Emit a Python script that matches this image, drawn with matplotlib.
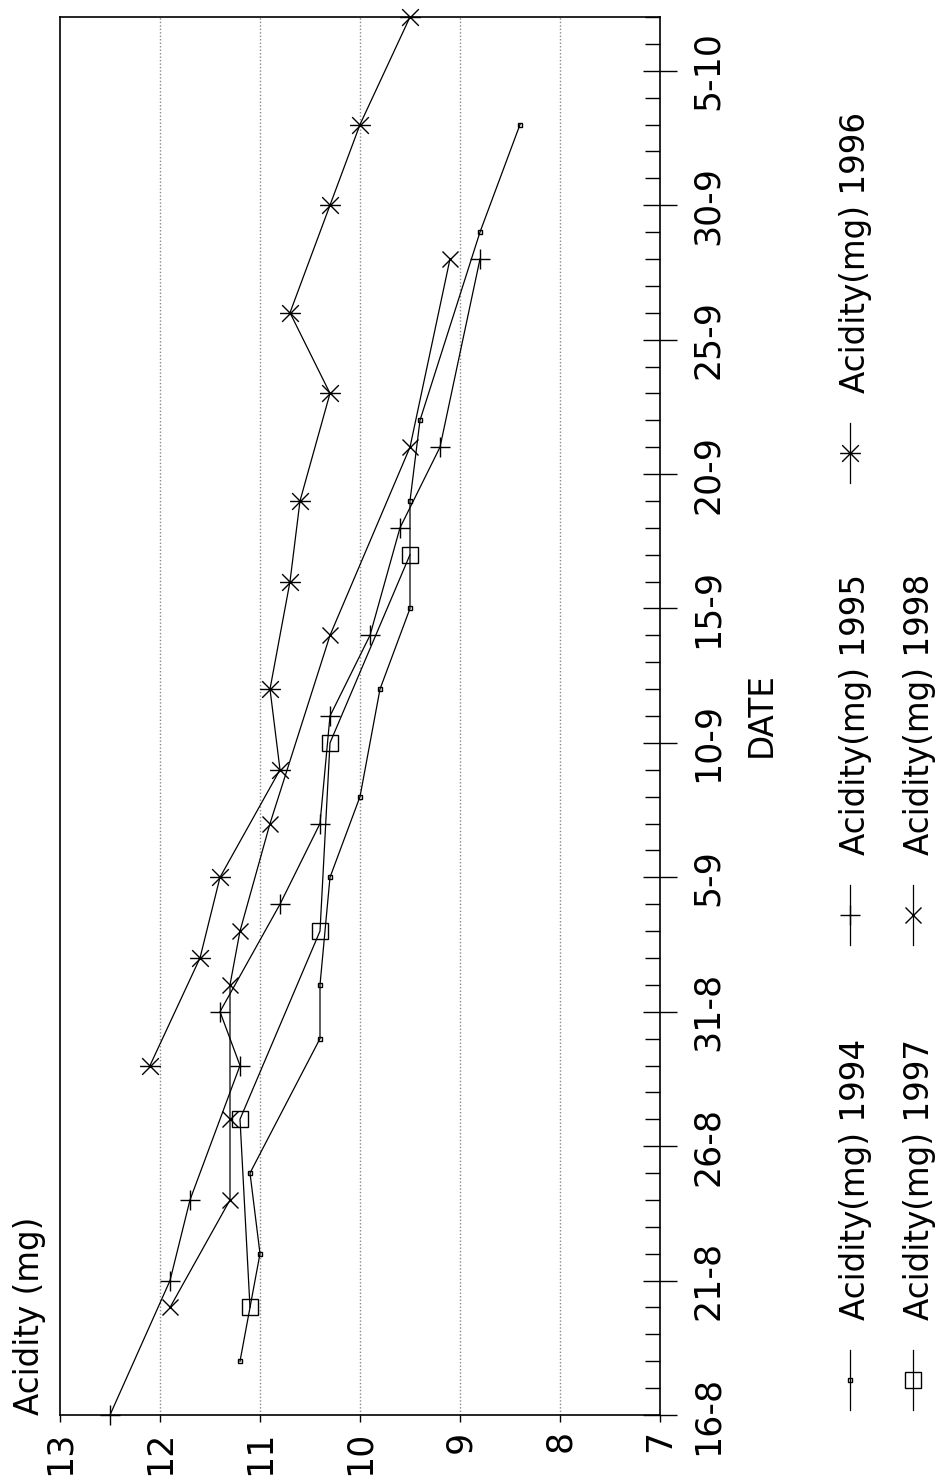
import matplotlib
matplotlib.use("Agg")
import matplotlib.pyplot as plt
from matplotlib.path import Path
from matplotlib.lines import Line2D
from matplotlib.ticker import FixedLocator, MultipleLocator

# ---------------- data ----------------
TICK_DATES = ["16-8", "21-8", "26-8", "31-8", "5-9", "10-9", "15-9",
              "20-9", "25-9", "30-9", "5-10"]
ACID_TICKS = [13, 12, 11, 10, 9, 8, 7]
GRID_VALUES = [12, 11, 10, 9, 8]

DATES_1994 = ["18-8", "22-8", "25-8", "30-8", "1-9", "5-9", "8-9", "12-9",
              "15-9", "19-9", "22-9", "29-9", "3-10"]
ACID_1994 = [11.2, 11.0, 11.1, 10.4, 10.4, 10.3, 10.0, 9.8, 9.5, 9.5, 9.4, 8.8, 8.4]

DATES_1995 = ["16-8", "21-8", "24-8", "29-8", "31-8", "4-9", "7-9", "11-9",
              "14-9", "18-9", "21-9", "28-9"]
ACID_1995 = [12.5, 11.9, 11.7, 11.2, 11.4, 10.8, 10.4, 10.3, 9.9, 9.6, 9.2, 8.8]

DATES_1996 = ["29-8", "2-9", "5-9", "9-9", "12-9", "16-9", "19-9", "23-9",
              "26-9", "30-9", "3-10", "7-10"]
ACID_1996 = [12.1, 11.6, 11.4, 10.8, 10.9, 10.7, 10.6, 10.3, 10.7, 10.3, 10.0, 9.5]

DATES_1997 = ["20-8", "27-8", "3-9", "10-9", "17-9"]
ACID_1997 = [11.1, 11.2, 10.4, 10.3, 9.5]

DATES_1998 = ["20-8", "24-8", "27-8", "1-9", "3-9", "7-9", "14-9", "21-9", "28-9"]
ACID_1998 = [11.9, 11.3, 11.3, 11.3, 11.2, 10.9, 10.3, 9.5, 9.1]

LABELS = ["Acidity(mg) 1994", "Acidity(mg) 1995", "Acidity(mg) 1996",
          "Acidity(mg) 1997", "Acidity(mg) 1998"]


def day_index(s):
    d, m = (int(v) for v in s.split("-"))
    return d + {8: -16, 9: 15, 10: 45}[m]


# ---------------- styles ----------------
W, H = 940, 1479
plt.rcParams["font.family"] = ["DejaVu Sans"]

ast_path = Path([(-1, -1), (1, 1), (-1, 1), (1, -1), (-1.25, 0), (1.25, 0)],
                [Path.MOVETO, Path.LINETO] * 3)

STYLES = {
    "Acidity(mg) 1994": dict(marker="s", ms=3.5, mfc="none", mew=1.0),
    "Acidity(mg) 1995": dict(marker="+", ms=15, mew=1.0),
    "Acidity(mg) 1996": dict(marker=ast_path, ms=15, mew=1.0),
    "Acidity(mg) 1997": dict(marker="s", ms=11, mfc="none", mew=1.0),
    "Acidity(mg) 1998": dict(marker="x", ms=12, mew=1.0),
}

SERIES = [
    (DATES_1994, ACID_1994, LABELS[0]),
    (DATES_1995, ACID_1995, LABELS[1]),
    (DATES_1996, ACID_1996, LABELS[2]),
    (DATES_1997, ACID_1997, LABELS[3]),
    (DATES_1998, ACID_1998, LABELS[4]),
]

fig = plt.figure(figsize=(W / 100, H / 100), dpi=100)
ax = fig.add_axes([60 / W, 1 - 1415 / H, 600 / W, (1415 - 17) / H])

for dates, vals, lab in SERIES:
    ax.plot(vals, [day_index(d) for d in dates], color="black", lw=0.9,
            mec="black", clip_on=False, zorder=3, **STYLES[lab])

ax.set_xlim(13, 7)
ax.set_ylim(0, 52)

for g in GRID_VALUES:
    ax.axvline(g, color="#888888", lw=1.0, ls=(0, (1, 1.5)), zorder=1)

for sp in ax.spines.values():
    sp.set_linewidth(1.2)

# acidity axis (bottom)
ax.set_xticks(ACID_TICKS)
ax.set_xticklabels([str(v) for v in ACID_TICKS], rotation=90, fontsize=25)
ax.tick_params(axis="x", direction="out", length=5, width=1, pad=6)

# date axis (right)
ax.yaxis.tick_right()
ax.set_yticks([day_index(d) for d in TICK_DATES])
ax.set_yticklabels(TICK_DATES, rotation=90, va="center", fontsize=25)
ax.yaxis.set_minor_locator(MultipleLocator(1))
ax.tick_params(axis="y", which="major", direction="inout", length=24, width=1, pad=10)
ax.tick_params(axis="y", which="minor", direction="in", length=11, width=1)


def fxy(px, py):
    return px / W, 1 - py / H


fig.text(*fxy(30, 1415), "Acidity (mg)", rotation=90, ha="center", va="bottom",
         fontsize=23.5)
fig.text(*fxy(761, 715), "DATE", rotation=90, ha="center", va="center",
         fontsize=23.5)

# ---------------- legend (rotated, drawn by hand) ----------------
LEG_POS = {
    "Acidity(mg) 1994": (850, 1380),
    "Acidity(mg) 1995": (850, 915),
    "Acidity(mg) 1996": (850, 453),
    "Acidity(mg) 1997": (913, 1380),
    "Acidity(mg) 1998": (913, 915),
}
for lab, (lx, ly) in LEG_POS.items():
    x0, y0 = fxy(lx, ly - 30)
    x1, y1 = fxy(lx, ly + 30)
    fig.add_artist(Line2D([x0, x1], [y0, y1], transform=fig.transFigure,
                          color="black", lw=0.9))
    mx, my = fxy(lx, ly)
    fig.add_artist(Line2D([mx], [my], transform=fig.transFigure,
                          color="black", mec="black", ls="none", **STYLES[lab]))
    tx, ty = fxy(lx + 6, ly - 60)
    fig.text(tx, ty, lab, rotation=90, ha="center", va="bottom", fontsize=23.5)

fig.savefig("out.png", dpi=100, facecolor="white")
